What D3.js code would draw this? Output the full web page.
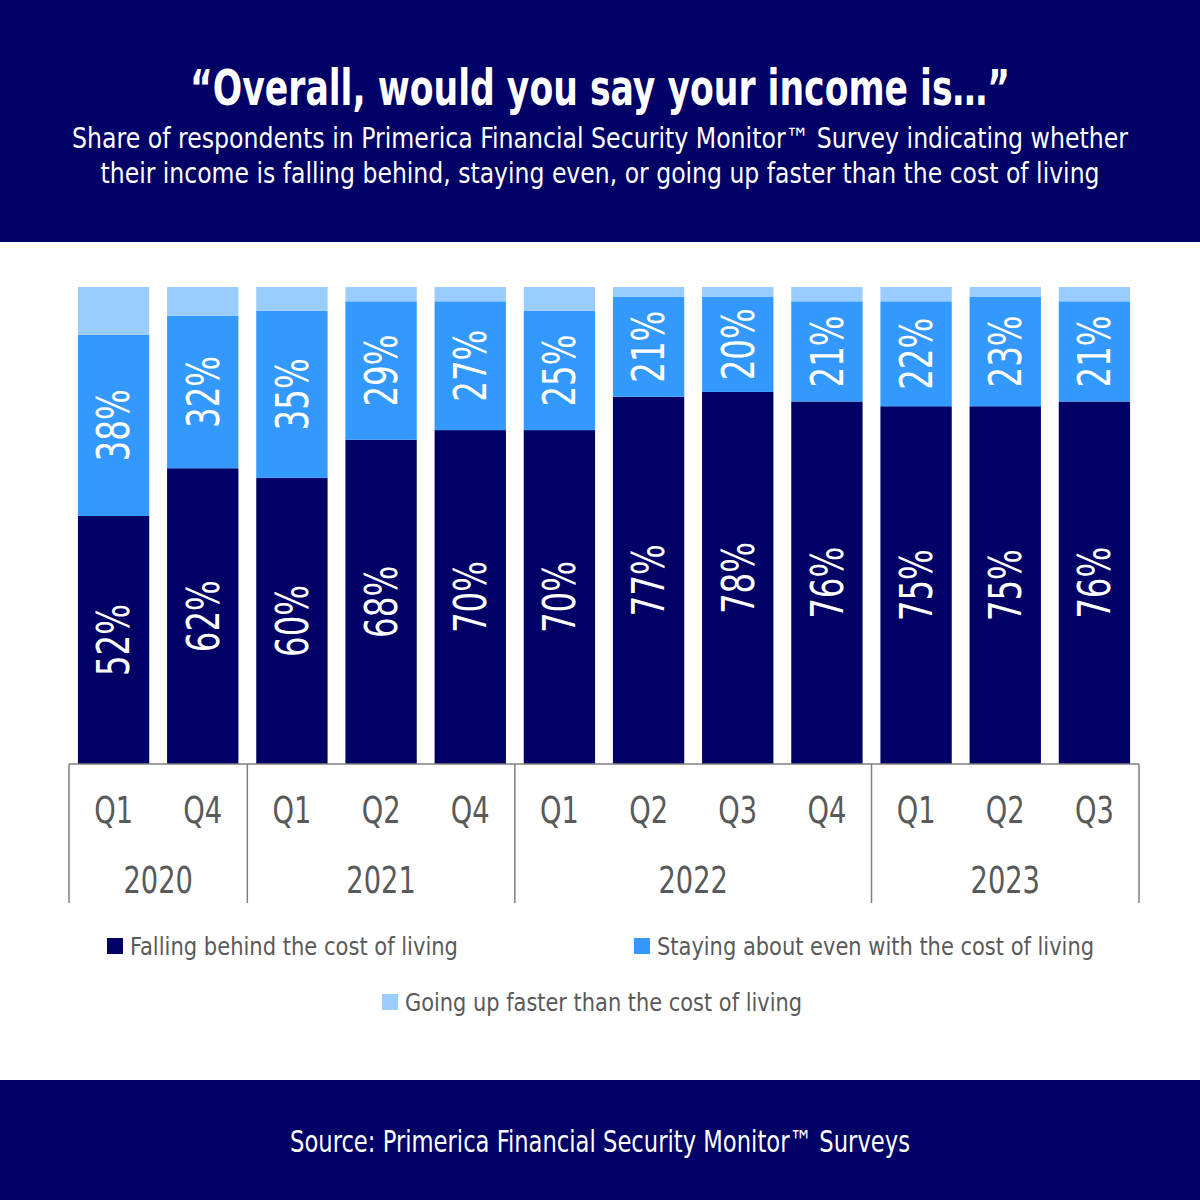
<!DOCTYPE html>
<html>
<head>
<meta charset="utf-8">
<script src="https://cdn.jsdelivr.net/npm/d3@7"></script>
<style>
  html, body { margin: 0; padding: 0; background: #fff; }
  svg { display: block; font-family: 'DejaVu Sans Condensed', 'DejaVu Sans', sans-serif; }
</style>
</head>
<body>
<svg id="chart" width="1200" height="1200"></svg>
<script>
  // survey waves
  const quarters = ['Q1', 'Q4', 'Q1', 'Q2', 'Q4', 'Q1', 'Q2', 'Q3', 'Q4', 'Q1', 'Q2', 'Q3'];
  const years = ['2020', '2020', '2021', '2021', '2021', '2022', '2022', '2022', '2022', '2023', '2023', '2023'];

  // share of respondents (%)
  const falling = [52, 62, 60, 68, 70, 70, 77, 78, 76, 75, 75, 76];
  const even = [38, 32, 35, 29, 27, 25, 21, 20, 21, 22, 23, 21];
  const faster = [10, 6, 5, 3, 3, 5, 2, 2, 3, 3, 2, 3];

  const seriesKeys = ['falling', 'even', 'faster'];
  const seriesNames = [
    'Falling behind the cost of living',
    'Staying about even with the cost of living',
    'Going up faster than the cost of living'
  ];

  const NAVY = '#000066';
  const COLOR_CODES = ['#000066', '#3399ff', '#99ccff'];
  const GREY_TEXT = '#595959';
  const AXIS_GREY = '#7f7f7f';
  const NARROW = 0.82; // the original face is narrower than DejaVu Condensed

  const svg = d3.select('#chart');

  // squeeze text horizontally, either to a fixed width or by a factor
  function squeeze (sel, width) {
    sel.each(function () {
      let w = width || this.getComputedTextLength() * NARROW;
      d3.select(this).attr('textLength', w).attr('lengthAdjust', 'spacingAndGlyphs');
    });
    return sel;
  }

  // header and footer bands
  svg.append('rect').attr('x', 0).attr('y', 0).attr('width', 1200).attr('height', 242).attr('fill', NAVY);
  svg.append('rect').attr('x', 0).attr('y', 1080).attr('width', 1200).attr('height', 120).attr('fill', NAVY);

  squeeze(svg.append('text')
    .attr('x', 600).attr('y', 105)
    .attr('text-anchor', 'middle')
    .attr('fill', '#fff')
    .attr('font-size', 50)
    .attr('font-weight', 'bold')
    .text('\u201COverall, would you say your income is\u2026\u201D'), 820);

  const subtitle = [
    'Share of respondents in Primerica Financial Security Monitor\u2122 Survey indicating whether',
    'their income is falling behind, staying even, or going up faster than the cost of living'
  ];
  const subtitleWidths = [1056, 999];
  subtitle.forEach(function (line, i) {
    squeeze(svg.append('text')
      .attr('x', 600).attr('y', 148 + i * 35)
      .attr('text-anchor', 'middle')
      .attr('fill', '#fff')
      .attr('font-size', 28)
      .text(line), subtitleWidths[i]);
  });

  squeeze(svg.append('text')
    .attr('x', 600).attr('y', 1152)
    .attr('text-anchor', 'middle')
    .attr('fill', '#fff')
    .attr('font-size', 30)
    .text('Source: Primerica Financial Security Monitor\u2122 Surveys'), 620);

  // stacked data
  const rows = quarters.map(function (q, i) {
    return { id: i, quarter: q, year: years[i], falling: falling[i], even: even[i], faster: faster[i] };
  });
  const stacked = d3.stack().keys(seriesKeys)(rows);

  const x = d3.scaleBand()
    .domain(rows.map(function (d) { return d.id; }))
    .range([69, 1139])
    .paddingInner(0.2)
    .paddingOuter(0.1);

  const y = d3.scaleLinear().domain([0, 100]).range([764, 287]);

  const layers = svg.append('g').selectAll('g')
    .data(stacked)
    .join('g')
    .attr('fill', function (d, i) { return COLOR_CODES[i]; });

  layers.selectAll('rect')
    .data(function (d) { return d; })
    .join('rect')
    .attr('x', function (d) { return x(d.data.id); })
    .attr('y', function (d) { return y(d[1]); })
    .attr('width', x.bandwidth())
    .attr('height', function (d) { return y(d[0]) - y(d[1]); });

  // value labels, rotated, for the first two series
  stacked.slice(0, 2).forEach(function (layer) {
    squeeze(svg.append('g').selectAll('text')
      .data(layer)
      .join('text')
      .attr('transform', function (d) {
        let cx = x(d.data.id) + x.bandwidth() / 2;
        let cy = (y(d[0]) + y(d[1])) / 2;
        return 'translate(' + cx + ',' + cy + ') rotate(-90)';
      })
      .attr('text-anchor', 'middle')
      .attr('dy', '0.36em')
      .attr('fill', '#fff')
      .attr('font-size', 44)
      .text(function (d) { return (d[1] - d[0]) + '%'; }));
  });

  // category axis
  const axisG = svg.append('g').attr('stroke', AXIS_GREY).attr('stroke-width', 1.5);
  axisG.append('line')
    .attr('x1', x.range()[0]).attr('x2', x.range()[1])
    .attr('y1', 764).attr('y2', 764);

  const yearGroups = d3.groups(rows, function (d) { return d.year; });
  const halfGap = x.step() * x.paddingInner() / 2;
  const bounds = [x.range()[0]];
  yearGroups.forEach(function (g, i) {
    if (i > 0) bounds.push(x(g[1][0].id) - halfGap);
  });
  bounds.push(x.range()[1]);

  axisG.selectAll('line.sep')
    .data(bounds)
    .join('line')
    .attr('class', 'sep')
    .attr('x1', function (d) { return d; }).attr('x2', function (d) { return d; })
    .attr('y1', 764).attr('y2', 903);

  squeeze(svg.append('g').selectAll('text')
    .data(rows)
    .join('text')
    .attr('x', function (d) { return x(d.id) + x.bandwidth() / 2; })
    .attr('y', 823)
    .attr('text-anchor', 'middle')
    .attr('fill', GREY_TEXT)
    .attr('font-size', 37)
    .text(function (d) { return d.quarter; }));

  squeeze(svg.append('g').selectAll('text')
    .data(yearGroups)
    .join('text')
    .attr('x', function (d, i) { return (bounds[i] + bounds[i + 1]) / 2; })
    .attr('y', 893)
    .attr('text-anchor', 'middle')
    .attr('fill', GREY_TEXT)
    .attr('font-size', 37)
    .text(function (d) { return d[0]; }));

  // legend
  const legendPos = [[107, 938], [634, 938], [382, 994]];
  const legendWidths = [328, 437, 397];
  const legend = svg.append('g').selectAll('g')
    .data(seriesNames)
    .join('g')
    .attr('transform', function (d, i) { return 'translate(' + legendPos[i][0] + ',' + legendPos[i][1] + ')'; });
  legend.append('rect')
    .attr('width', 16).attr('height', 16)
    .attr('fill', function (d, i) { return COLOR_CODES[i]; });
  legend.append('text')
    .attr('x', 23).attr('y', 17)
    .attr('fill', GREY_TEXT)
    .attr('font-size', 24)
    .attr('textLength', function (d, i) { return legendWidths[i]; })
    .attr('lengthAdjust', 'spacingAndGlyphs')
    .text(function (d) { return d; });
</script>
</body>
</html>
